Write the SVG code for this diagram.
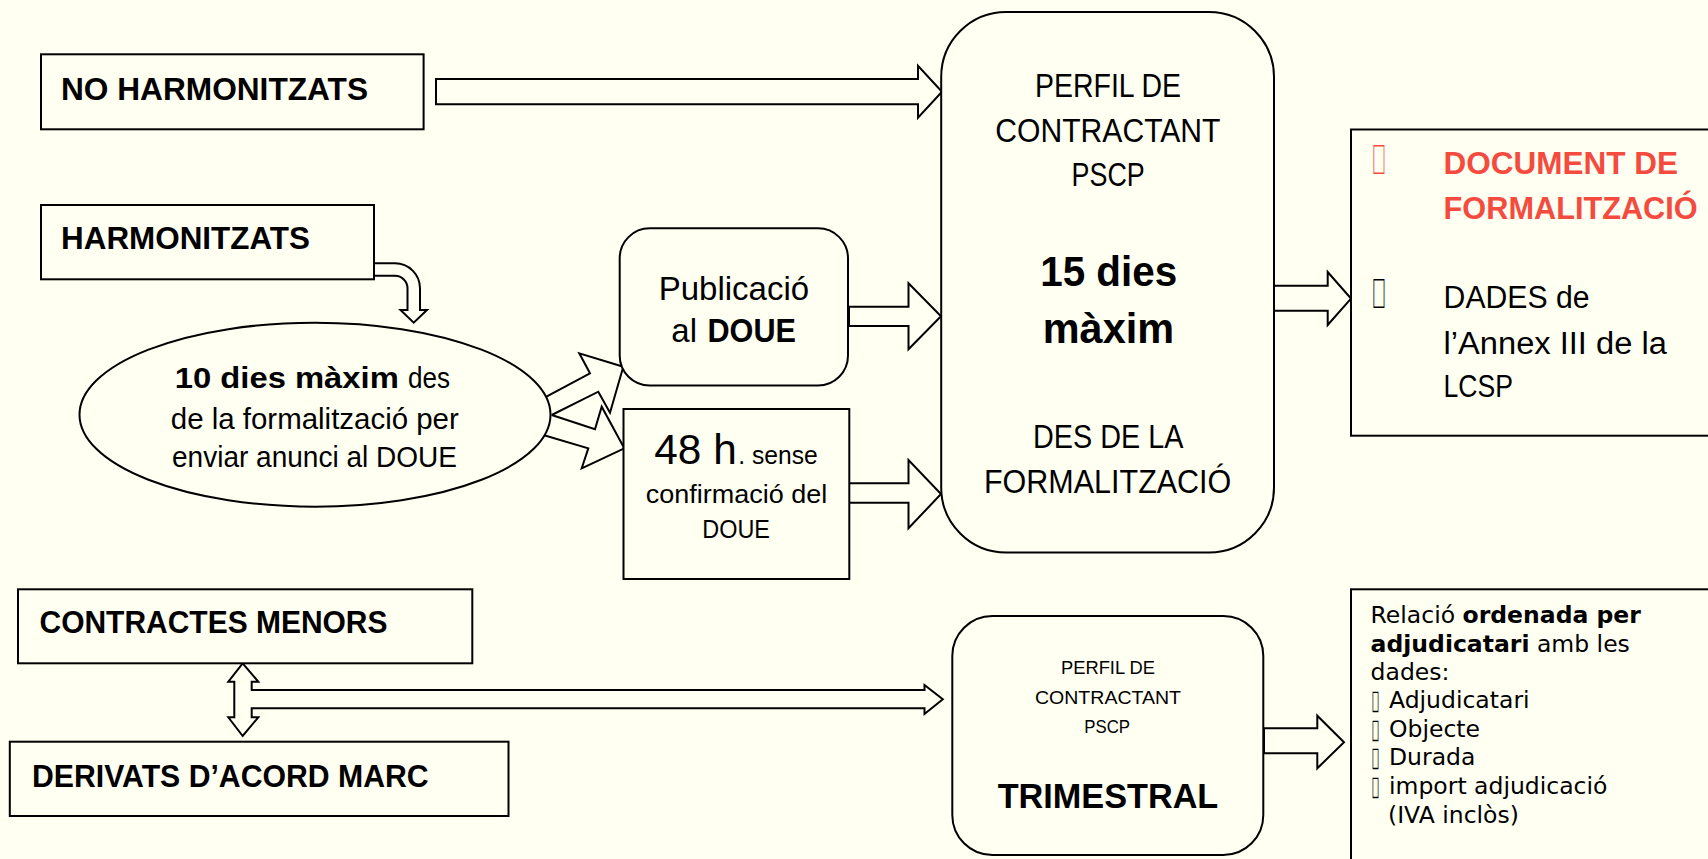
<svg xmlns="http://www.w3.org/2000/svg" width="1708" height="859" viewBox="0 0 1708 859">
<style>
.bx{fill:#FFFFF2;stroke:#000;stroke-width:2}
.ar{fill:#FFFFF2;stroke:#000;stroke-width:2;stroke-linejoin:miter}
.ao{fill:none;stroke:#000;stroke-width:2;stroke-linejoin:miter}
.t{font-family:"Liberation Sans",Arial,sans-serif;fill:#000}
.b{font-weight:bold}
.red{fill:#F54B3F}
.v{font-family:"DejaVu Sans",Verdana,sans-serif;font-size:23.5px;fill:#000}
</style>
<rect x="0" y="0" width="1708" height="859" fill="#FFFFF2"/>

<g id="connectors">
  <path class="ar" d="M436 79H918V65.7L942 91.7L918 117.7V104.3H436Z"/>
  <path class="ar" d="M374 263.3H395A25 25 0 0 1 420 288.3V310H427L413.7 322.7L400.5 310H407.5V288.3A12.5 12.5 0 0 0 395 275.8H374Z"/>
  <path class="ao" d="M545 397.3L590 373.3L579.3 353.3L623.3 366.7L610 412.7L598.3 391.7L551.7 415"/>
  <path class="ao" d="M551.7 415L595 429.3L601.7 406.7L624.3 448.3L581.7 468.3L588.3 448.3L543.3 435"/>
  <path class="ar" d="M849 306.7H908.5V283.3L941 316.3L908.5 349.3V326H849Z"/>
  <path class="ar" d="M849 483.3H908.5V460L941 494L908.5 528.3V502.7H849Z"/>
  <path class="ar" d="M1274 285.7H1327.7V272L1351 298.6L1327.7 325V310.7H1274Z"/>
  <path class="ar" d="M242.7 663.3L258.3 681.7H251.7V690H924.5V685L942.8 699.3L924.5 714V708.3H251.7V717.3H258.3L242.7 736L228.3 717.3H234.3V681.7H228.3Z"/>
  <path class="ar" d="M1264 728.3H1317.3V715.7L1344 742.3L1317.3 768.3V753.3H1264Z"/>
</g>

<g id="no-harmonitzats">
  <rect class="bx" x="41" y="54.3" width="382.6" height="75"/>
  <text class="t b" x="61" y="100" font-size="31.5" textLength="307" lengthAdjust="spacingAndGlyphs">NO HARMONITZATS</text>
</g>

<g id="harmonitzats">
  <rect class="bx" x="41" y="205" width="333" height="74.3"/>
  <text class="t b" x="61" y="249" font-size="31.5" textLength="249" lengthAdjust="spacingAndGlyphs">HARMONITZATS</text>
</g>

<g id="deu-dies">
  <ellipse class="bx" cx="315" cy="414.7" rx="235.5" ry="92"/>
  <text class="t b" x="174.8" y="388" font-size="29" textLength="224" lengthAdjust="spacingAndGlyphs">10 dies màxim</text>
  <text class="t" x="408" y="388" font-size="29" textLength="42" lengthAdjust="spacingAndGlyphs">des</text>
  <text class="t" x="170.8" y="429" font-size="29" textLength="288" lengthAdjust="spacingAndGlyphs">de la formalització per</text>
  <text class="t" x="172" y="466.7" font-size="29" textLength="285" lengthAdjust="spacingAndGlyphs">enviar anunci al DOUE</text>
</g>

<g id="publicacio">
  <rect class="bx" x="619.7" y="228.3" width="228.3" height="157.2" rx="30" ry="30"/>
  <text class="t" x="658.7" y="299.5" font-size="33" textLength="150.4" lengthAdjust="spacingAndGlyphs">Publicació</text>
  <text class="t" x="671.3" y="342" font-size="33">al</text>
  <text class="t b" x="707.5" y="342" font-size="33" textLength="88.5" lengthAdjust="spacingAndGlyphs">DOUE</text>
</g>

<g id="h48">
  <rect class="bx" x="623.5" y="409" width="225.8" height="170"/>
  <text class="t" x="654.3" y="464" font-size="42" textLength="82.4" lengthAdjust="spacingAndGlyphs">48 h</text>
  <text class="t" x="738.3" y="464" font-size="26" textLength="79.4" lengthAdjust="spacingAndGlyphs">. sense</text>
  <text class="t" x="645.7" y="503" font-size="26" textLength="181.6" lengthAdjust="spacingAndGlyphs">confirmació del</text>
  <text class="t" x="702.3" y="537.5" font-size="26" textLength="67.7" lengthAdjust="spacingAndGlyphs">DOUE</text>
</g>

<g id="perfil">
  <rect class="bx" x="941.2" y="12" width="332.8" height="540.5" rx="65" ry="65"/>
  <text class="t" x="1035" y="97" font-size="33" textLength="146" lengthAdjust="spacingAndGlyphs">PERFIL DE</text>
  <text class="t" x="995.3" y="141.8" font-size="33" textLength="225.2" lengthAdjust="spacingAndGlyphs">CONTRACTANT</text>
  <text class="t" x="1071.6" y="186.4" font-size="33" textLength="73.2" lengthAdjust="spacingAndGlyphs">PSCP</text>
  <text class="t b" x="1040.2" y="285.7" font-size="42" textLength="137" lengthAdjust="spacingAndGlyphs">15 dies</text>
  <text class="t b" x="1042.7" y="342.9" font-size="42" textLength="131.4" lengthAdjust="spacingAndGlyphs">màxim</text>
  <text class="t" x="1033" y="448.2" font-size="33" textLength="150.4" lengthAdjust="spacingAndGlyphs">DES DE LA</text>
  <text class="t" x="984" y="492.9" font-size="33" textLength="247.3" lengthAdjust="spacingAndGlyphs">FORMALITZACIÓ</text>
</g>

<g id="document">
  <rect class="bx" x="1351" y="129.5" width="380" height="306.2"/>
  <text class="t red" x="1371.5" y="174" font-size="42" textLength="15" lengthAdjust="spacingAndGlyphs">&#xF0D8;</text>
  <text class="t b red" x="1443.6" y="174" font-size="31" textLength="234.4" lengthAdjust="spacingAndGlyphs">DOCUMENT DE</text>
  <text class="t b red" x="1443.6" y="218.6" font-size="31" textLength="254.1" lengthAdjust="spacingAndGlyphs">FORMALITZACIÓ</text>
  <text class="t" x="1371.5" y="307.9" font-size="42" textLength="15" lengthAdjust="spacingAndGlyphs">&#xF0D8;</text>
  <text class="t" x="1443.6" y="307.9" font-size="31" textLength="145.9" lengthAdjust="spacingAndGlyphs">DADES de</text>
  <text class="t" x="1443.6" y="353.6" font-size="31" textLength="223.2" lengthAdjust="spacingAndGlyphs">l’Annex III de la</text>
  <text class="t" x="1443.6" y="397" font-size="31" textLength="69.4" lengthAdjust="spacingAndGlyphs">LCSP</text>
</g>

<g id="contractes-menors">
  <rect class="bx" x="18" y="589.3" width="454.3" height="74"/>
  <text class="t b" x="39.5" y="633.3" font-size="31" textLength="348" lengthAdjust="spacingAndGlyphs">CONTRACTES MENORS</text>
</g>

<g id="derivats">
  <rect class="bx" x="9.8" y="741.7" width="498.7" height="74.3"/>
  <text class="t b" x="32" y="786.7" font-size="31" textLength="396.6" lengthAdjust="spacingAndGlyphs">DERIVATS D’ACORD MARC</text>
</g>

<g id="trimestral">
  <rect class="bx" x="952.3" y="616" width="311" height="239" rx="40" ry="40"/>
  <text class="t" x="1061" y="674.3" font-size="18.6" textLength="94" lengthAdjust="spacingAndGlyphs">PERFIL DE</text>
  <text class="t" x="1035" y="704.3" font-size="18.6" textLength="146" lengthAdjust="spacingAndGlyphs">CONTRACTANT</text>
  <text class="t" x="1084.3" y="732.7" font-size="18.6" textLength="45.7" lengthAdjust="spacingAndGlyphs">PSCP</text>
  <text class="t b" x="997.7" y="808.3" font-size="35" textLength="220.6" lengthAdjust="spacingAndGlyphs">TRIMESTRAL</text>
</g>

<g id="relacio">
  <rect class="bx" x="1351" y="589.3" width="380" height="290"/>
  <text class="v" x="1370.6" y="623.3">Relació <tspan font-weight="bold">ordenada per</tspan></text>
  <text class="v" x="1370.6" y="651.7"><tspan font-weight="bold">adjudicatari</tspan> amb les</text>
  <text class="v" x="1370.6" y="680">dades:</text>
  <text class="v" x="1372" y="708.3" textLength="7" lengthAdjust="spacingAndGlyphs">&#xF0D8;</text>
  <text class="v" x="1389" y="708.3">Adjudicatari</text>
  <text class="v" x="1372" y="736.7" textLength="7" lengthAdjust="spacingAndGlyphs">&#xF0D8;</text>
  <text class="v" x="1389" y="736.7">Objecte</text>
  <text class="v" x="1372" y="765" textLength="7" lengthAdjust="spacingAndGlyphs">&#xF0D8;</text>
  <text class="v" x="1389" y="765">Durada</text>
  <text class="v" x="1372" y="794" textLength="7" lengthAdjust="spacingAndGlyphs">&#xF0D8;</text>
  <text class="v" x="1389" y="794">import adjudicació</text>
  <text class="v" x="1388" y="823.3">(IVA inclòs)</text>
</g>
</svg>
